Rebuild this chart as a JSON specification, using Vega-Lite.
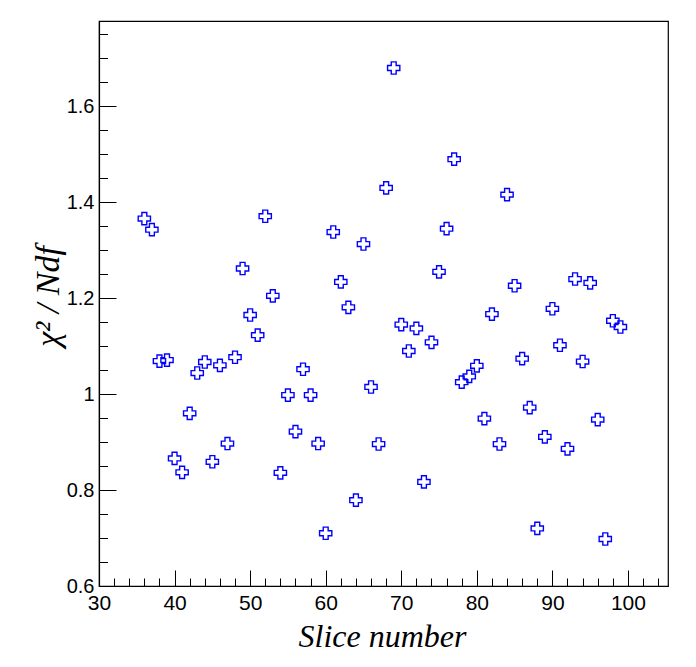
{
  "$schema": "https://vega.github.io/schema/vega-lite/v6.json",
  "width": 569,
  "height": 565,
  "autosize": {"type": "none"},
  "padding": {"left": 99, "top": 21, "right": 28, "bottom": 81},
  "background": "white",
  "config": {"view": {"stroke": "black", "strokeWidth": 1.2}},
  "data": {"values": [
    {"slice": 36, "chi2": 1.366}, {"slice": 37, "chi2": 1.343}, {"slice": 38, "chi2": 1.069}, {"slice": 39, "chi2": 1.071},
    {"slice": 40, "chi2": 0.866}, {"slice": 41, "chi2": 0.837}, {"slice": 42, "chi2": 0.960}, {"slice": 43, "chi2": 1.044},
    {"slice": 44, "chi2": 1.067}, {"slice": 45, "chi2": 0.859}, {"slice": 46, "chi2": 1.060}, {"slice": 47, "chi2": 0.897},
    {"slice": 48, "chi2": 1.077}, {"slice": 49, "chi2": 1.262}, {"slice": 50, "chi2": 1.165}, {"slice": 51, "chi2": 1.123},
    {"slice": 52, "chi2": 1.371}, {"slice": 53, "chi2": 1.205}, {"slice": 54, "chi2": 0.836}, {"slice": 55, "chi2": 0.998},
    {"slice": 56, "chi2": 0.922}, {"slice": 57, "chi2": 1.052}, {"slice": 58, "chi2": 0.998}, {"slice": 59, "chi2": 0.897},
    {"slice": 60, "chi2": 0.710}, {"slice": 61, "chi2": 1.338}, {"slice": 62, "chi2": 1.234}, {"slice": 63, "chi2": 1.181},
    {"slice": 64, "chi2": 0.779}, {"slice": 65, "chi2": 1.313}, {"slice": 66, "chi2": 1.015}, {"slice": 67, "chi2": 0.896},
    {"slice": 68, "chi2": 1.430}, {"slice": 69, "chi2": 1.680}, {"slice": 70, "chi2": 1.145}, {"slice": 71, "chi2": 1.090},
    {"slice": 72, "chi2": 1.137}, {"slice": 73, "chi2": 0.817}, {"slice": 74, "chi2": 1.108}, {"slice": 75, "chi2": 1.255},
    {"slice": 76, "chi2": 1.345}, {"slice": 77, "chi2": 1.490}, {"slice": 78, "chi2": 1.025}, {"slice": 79, "chi2": 1.037},
    {"slice": 80, "chi2": 1.059}, {"slice": 81, "chi2": 0.949}, {"slice": 82, "chi2": 1.167}, {"slice": 83, "chi2": 0.896},
    {"slice": 84, "chi2": 1.416}, {"slice": 85, "chi2": 1.226}, {"slice": 86, "chi2": 1.074}, {"slice": 87, "chi2": 0.972},
    {"slice": 88, "chi2": 0.720}, {"slice": 89, "chi2": 0.911}, {"slice": 90, "chi2": 1.178}, {"slice": 91, "chi2": 1.102},
    {"slice": 92, "chi2": 0.886}, {"slice": 93, "chi2": 1.240}, {"slice": 94, "chi2": 1.068}, {"slice": 95, "chi2": 1.232},
    {"slice": 96, "chi2": 0.947}, {"slice": 97, "chi2": 0.698}, {"slice": 98, "chi2": 1.153}, {"slice": 99, "chi2": 1.140}
  ]},
  "mark": {"type": "point", "shape": "cross", "filled": false, "stroke": "#0000ff", "strokeWidth": 1.4, "size": 150, "opacity": 1},
  "encoding": {
    "x": {
      "field": "slice", "type": "quantitative",
      "scale": {"domain": [30, 105.3], "nice": false, "zero": false},
      "axis": {
        "values": [30,32,34,36,38,40,42,44,46,48,50,52,54,56,58,60,62,64,66,68,70,72,74,76,78,80,82,84,86,88,90,92,94,96,98,100,102,104],
        "labelExpr": "datum.value % 10 === 0 ? datum.label : ''",
        "tickSize": {"condition": {"test": "datum.value % 10 === 0", "value": -16}, "value": -8},
        "labelPadding": 22,
        "tickColor": "black", "tickWidth": 1,
        "domainColor": "black", "domainWidth": 1.2,
        "grid": false,
        "labelFont": "Liberation Sans", "labelFontSize": 21, "labelColor": "black",
        "labelFlush": false, "labelOverlap": false,
        "title": "Slice number",
        "titleFont": "Liberation Serif", "titleFontStyle": "italic", "titleFontWeight": "normal",
        "titleFontSize": 32, "titleColor": "black",
        "titleBaseline": "alphabetic", "titleY": 60, "titleX": 283
      }
    },
    "y": {
      "field": "chi2", "type": "quantitative",
      "scale": {"domain": [0.6, 1.778], "nice": false, "zero": false},
      "axis": {
        "values": [0.6,0.65,0.7,0.75,0.8,0.85,0.9,0.95,1.0,1.05,1.1,1.15,1.2,1.25,1.3,1.35,1.4,1.45,1.5,1.55,1.6,1.65,1.7,1.75],
        "format": "~g",
        "labelExpr": "round(datum.value*100) % 20 === 0 ? datum.label : ''",
        "tickSize": {"condition": {"test": "round(datum.value*100) % 20 === 0", "value": -17}, "value": -8.5},
        "labelPadding": 22,
        "tickColor": "black", "tickWidth": 1,
        "domainColor": "black", "domainWidth": 1.2,
        "grid": false,
        "labelFont": "Liberation Sans", "labelFontSize": 20, "labelColor": "black",
        "labelFlush": false, "labelOverlap": false,
        "title": "χ² / Ndf",
        "titleFont": "Liberation Serif", "titleFontStyle": "italic", "titleFontWeight": "normal",
        "titleFontSize": 34, "titleColor": "black",
        "titleAngle": 270, "titleBaseline": "alphabetic", "titleAlign": "center",
        "titleX": -41, "titleY": 275
      }
    }
  }
}
